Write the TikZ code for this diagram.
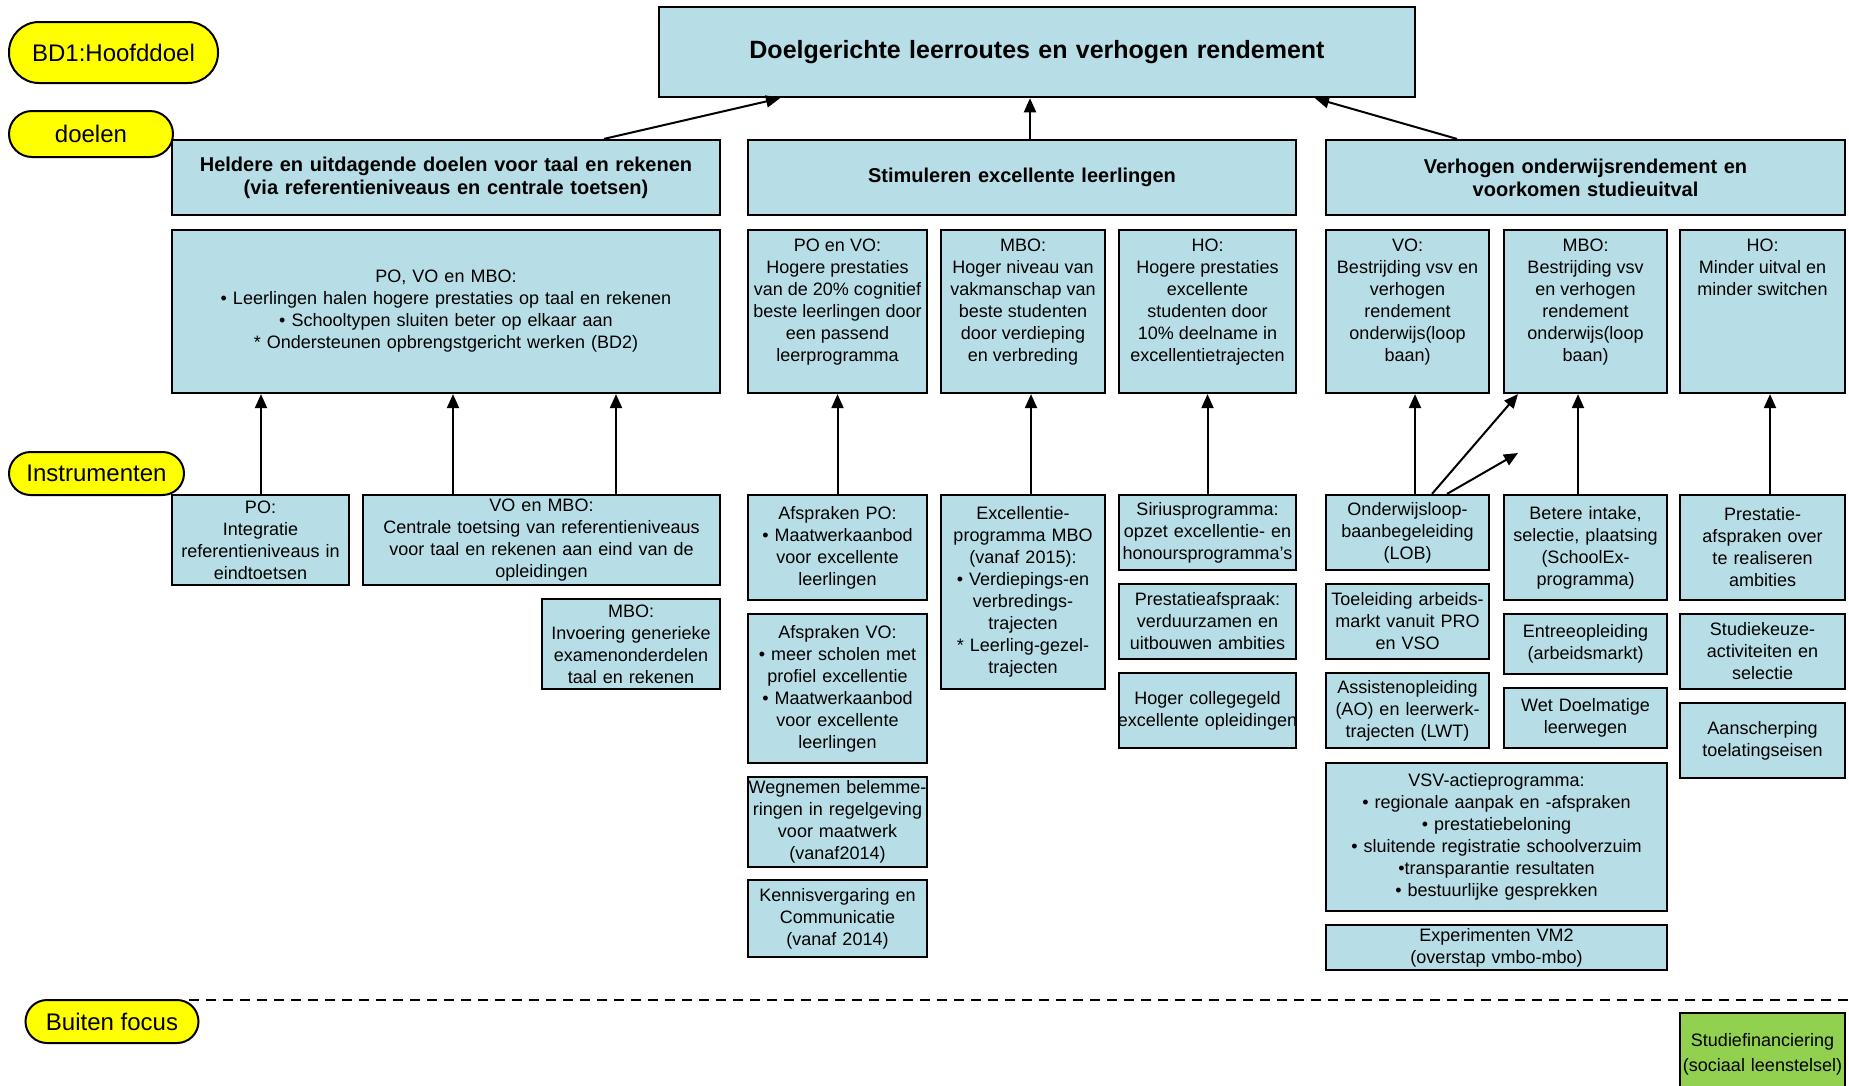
\documentclass[tikz,border=0pt]{standalone}
\usepackage{fontspec}
\setmainfont{Liberation Sans}
\usetikzlibrary{arrows.meta,calc}
\definecolor{boxblue}{RGB}{183,222,230}
\definecolor{lblyellow}{RGB}{255,255,0}
\definecolor{focgreen}{RGB}{146,208,80}

\newcommand{\mkbox}[7]{%
  \pgfmathsetmacro\bxw{#5-#3}\pgfmathsetmacro\bxh{#6-#4}%
  \node[#1, text width=\bxw pt, minimum height=\bxh pt] (#2) at ({(#3+#5)/2},{(#4+#6)/2}) {#7};}
\newcommand{\mktop}[6]{%
  \pgfmathsetmacro\bxw{#4-#2}\pgfmathsetmacro\bxh{#5-#3}%
  \node[bx] (#1) at ({(#2+#4)/2},{(#3+#5)/2}) {\parbox[c][\bxh pt][t]{\bxw pt}{\centering\rule{0pt}{21pt}#6}};}

\begin{document}
\begin{tikzpicture}[x=1pt,y=-1pt,
  bx/.style={draw, line width=2.2pt, fill=boxblue, inner sep=0pt, align=center,
             font=\fontsize{18}{22}\selectfont},
  mainbx/.style={bx, line width=2.5pt, font=\bfseries\fontsize{25}{29}\selectfont},
  goalbx/.style={bx, font=\bfseries\fontsize{20}{23}\selectfont},
  greenbx/.style={bx, fill=focgreen, font=\fontsize{18}{25}\selectfont},
  lbl/.style={draw, line width=2pt, fill=lblyellow, inner sep=0pt,
              font=\fontsize{24}{28}\selectfont},
  arr/.style={-{Triangle[length=14pt,width=12pt]}, line width=2pt}]
\useasboundingbox (0,0) rectangle (1849,1085);
\clip (0,0) rectangle (1849,1085);
\fill[white] (0,0) rectangle (1849,1085);

% side labels
\node[lbl, minimum width=209pt, minimum height=61pt, rounded corners=30pt] (lblBD) at (113.5,52.5) {BD1:Hoofddoel};
\node[lbl, minimum width=164pt, minimum height=46pt, rounded corners=23pt] (lblDoelen) at (91,134) {doelen};
\node[lbl, minimum width=175pt, minimum height=43pt, rounded corners=21.5pt] (lblInstr) at (96.5,473.5) {Instrumenten};
\node[lbl, minimum width=173pt, minimum height=43pt, rounded corners=21.5pt] (lblBuiten) at (112,1021.5) {Buiten focus};

% main goal
\mkbox{mainbx}{main}{659}{7}{1415}{97}{Doelgerichte leerroutes en verhogen rendement}

% goals
\mkbox{goalbx}{g1}{172}{140}{720}{215}{Heldere en uitdagende doelen voor taal en rekenen\\(via referentieniveaus en centrale toetsen)}
\mkbox{goalbx}{g2}{748}{140}{1296}{215}{Stimuleren excellente leerlingen}
\mkbox{goalbx}{g3}{1326}{140}{1845}{215}{Verhogen onderwijsrendement en\\voorkomen studieuitval}

% sub goals
\mkbox{bx}{sA}{172}{230}{720}{393}{PO, VO en MBO:\\\textbullet\ Leerlingen halen hogere prestaties op taal en rekenen\\\textbullet\ Schooltypen sluiten beter op elkaar aan\\{*} Ondersteunen opbrengstgericht werken (BD2)}
\mktop{sB}{748}{230}{927}{393}{PO en VO:\\Hogere prestaties\\van de 20\% cognitief\\beste leerlingen door\\een passend\\leerprogramma}
\mktop{sC}{941}{230}{1105}{393}{MBO:\\Hoger niveau van\\vakmanschap van\\beste studenten\\door verdieping\\en verbreding}
\mktop{sD}{1119}{230}{1296}{393}{HO:\\Hogere prestaties\\excellente\\studenten door\\10\% deelname in\\excellentietrajecten}
\mktop{sE}{1326}{230}{1489}{393}{VO:\\Bestrijding vsv en\\verhogen\\rendement\\onderwijs(loop\\baan)}
\mktop{sF}{1504}{230}{1667}{393}{MBO:\\Bestrijding vsv\\en verhogen\\rendement\\onderwijs(loop\\baan)}
\mktop{sG}{1680}{230}{1845}{393}{HO:\\Minder uitval en\\minder switchen}

% instruments
\mkbox{bx}{iPO}{172}{495}{349}{585}{PO:\\Integratie\\referentieniveaus in\\eindtoetsen}
\mkbox{bx}{iVOMBO}{363}{495}{720}{585}{VO en MBO:\\Centrale toetsing van referentieniveaus\\voor taal en rekenen aan eind van de\\opleidingen}
\mkbox{bx}{iMBOinv}{542}{599}{720}{689}{MBO:\\Invoering generieke\\examenonderdelen\\taal en rekenen}
\mkbox{bx}{iAfPO}{748}{495}{927}{600}{Afspraken PO:\\\textbullet\ Maatwerkaanbod\\voor excellente\\leerlingen}
\mkbox{bx}{iAfVO}{748}{614}{927}{763}{Afspraken VO:\\\textbullet\ meer scholen met\\profiel excellentie\\\textbullet\ Maatwerkaanbod\\voor excellente\\leerlingen}
\mkbox{bx}{iWeg}{748}{777}{927}{867}{Wegnemen belemme-\\ringen in regelgeving\\voor maatwerk\\(vanaf2014)}
\mkbox{bx}{iKennis}{748}{880}{927}{957}{Kennisvergaring en\\Communicatie\\(vanaf 2014)}
\mkbox{bx}{iExc}{941}{495}{1105}{689}{Excellentie-\\programma MBO\\(vanaf 2015):\\\textbullet\ Verdiepings-en\\verbredings-\\trajecten\\{*} Leerling-gezel-\\trajecten}
\mkbox{bx}{iSirius}{1119}{495}{1296}{570}{Siriusprogramma:\\opzet excellentie- en\\honoursprogramma's}
\mkbox{bx}{iPrest}{1119}{584}{1296}{659}{Prestatieafspraak:\\verduurzamen en\\uitbouwen ambities}
\mkbox{bx}{iHoger}{1119}{673}{1296}{748}{Hoger collegegeld\\\makebox[\linewidth][c]{excellente opleidingen}}
\mkbox{bx}{iLOB}{1326}{495}{1489}{570}{Onderwijsloop-\\baanbegeleiding\\(LOB)}
\mkbox{bx}{iToel}{1326}{584}{1489}{659}{Toeleiding arbeids-\\markt vanuit PRO\\en VSO}
\mkbox{bx}{iAO}{1326}{673}{1489}{748}{Assistenopleiding\\(AO) en leerwerk-\\trajecten (LWT)}
\mkbox{bx}{iVSV}{1326}{763}{1667}{911}{VSV-actieprogramma:\\\textbullet\ regionale aanpak en -afspraken\\\textbullet\ prestatiebeloning\\\textbullet\ sluitende registratie schoolverzuim\\\textbullet transparantie resultaten\\\textbullet\ bestuurlijke gesprekken}
\mkbox{bx}{iExp}{1326}{925}{1667}{970}{Experimenten VM2\\(overstap vmbo-mbo)}
\mkbox{bx}{iBetere}{1504}{495}{1667}{600}{Betere intake,\\selectie, plaatsing\\(SchoolEx-\\programma)}
\mkbox{bx}{iEntree}{1504}{614}{1667}{674}{Entreeopleiding\\(arbeidsmarkt)}
\mkbox{bx}{iWet}{1504}{688}{1667}{748}{Wet Doelmatige\\leerwegen}
\mkbox{bx}{iPrestHO}{1680}{495}{1845}{600}{Prestatie-\\afspraken over\\te realiseren\\ambities}
\mkbox{bx}{iStudie}{1680}{614}{1845}{689}{Studiekeuze-\\activiteiten en\\selectie}
\mkbox{bx}{iAansch}{1680}{703}{1845}{778}{Aanscherping\\toelatingseisen}

% out of focus
\mkbox{greenbx}{iStufi}{1680}{1013}{1845}{1095}{Studiefinanciering\\(sociaal leenstelsel)}
\coordinate (dashL) at (189,1000);
\coordinate (dashR) at (1849,1000);
\draw[line width=2pt, dash pattern=on 10pt off 7pt] (dashL) -- (dashR);

% arrows to main goal
\draw[arr] ([xshift=158pt]g1.north) -- ([xshift=-257pt]main.south);
\draw[arr] ([xshift=8pt]g2.north) -- ([xshift=-7pt]main.south);
\draw[arr] ([xshift=-128.5pt]g3.north) -- ([xshift=278pt]main.south);

% arrows instruments -> sub goals
\draw[arr] ([xshift=0.5pt]iPO.north) -- ([xshift=-185pt]sA.south);
\draw[arr] ([xshift=-88.5pt]iVOMBO.north) -- ([xshift=7pt]sA.south);
\draw[arr] ([xshift=74.5pt]iVOMBO.north) -- ([xshift=170pt]sA.south);
\draw[arr] (iAfPO.north) -- (sB.south);
\draw[arr] ([xshift=8pt]iExc.north) -- ([xshift=8pt]sC.south);
\draw[arr] (iSirius.north) -- (sD.south);
\draw[arr] ([xshift=7.5pt]iLOB.north) -- ([xshift=7.5pt]sE.south);
\draw[arr] ([xshift=24.5pt]iLOB.north) -- ([xshift=-67.5pt]sF.south);
\coordinate (freeEnd) at (1518,453);
\draw[arr] ([xshift=39.5pt]iLOB.north) -- (freeEnd);
\draw[arr] ([xshift=-7.5pt]iBetere.north) -- ([xshift=-7.5pt]sF.south);
\draw[arr] ([xshift=7.5pt]iPrestHO.north) -- ([xshift=7.5pt]sG.south);
\end{tikzpicture}
\end{document}
